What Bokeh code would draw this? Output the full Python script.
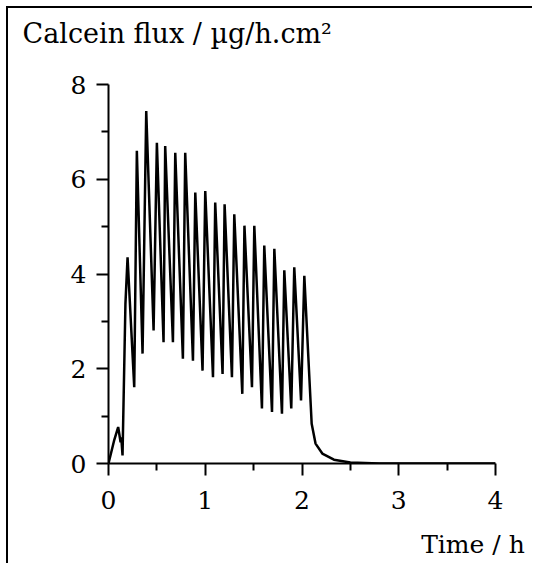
from bokeh.plotting import figure
from bokeh.models import Range1d, FixedTicker, Title, LinearAxis
from bokeh.embed import file_html
from bokeh.resources import INLINE

# Data (time in h, calcein flux in µg/h.cm²)
time_h = [0.0, 0.06, 0.10, 0.125, 0.132, 0.145, 0.175, 0.197, 0.266, 0.293, 0.352,
          0.39, 0.466, 0.50, 0.569, 0.586, 0.666, 0.69, 0.769, 0.793, 0.873,
          0.897, 0.972, 1.0, 1.08, 1.103, 1.179, 1.2, 1.276, 1.30, 1.383,
          1.405, 1.483, 1.507, 1.586, 1.61, 1.69, 1.714, 1.793, 1.817, 1.889,
          1.92, 1.99, 2.024, 2.05, 2.10, 2.14, 2.21, 2.33, 2.5, 2.8, 4.0]
flux = [0.0, 0.5, 0.77, 0.45, 0.55, 0.17, 3.37, 4.35, 1.61, 6.6, 2.32,
        7.44, 2.81, 6.77, 2.56, 6.70, 2.56, 6.56, 2.21, 6.56, 2.17,
        5.72, 1.96, 5.75, 1.82, 5.51, 1.89, 5.47, 1.82, 5.26, 1.47,
        5.02, 1.61, 5.02, 1.16, 4.60, 1.09, 4.53, 1.05, 4.08, 1.16,
        4.14, 1.33, 3.96, 2.88, 0.84, 0.42, 0.21, 0.08, 0.02, 0.0, 0.0]

x_ticks = [0, 1, 2, 3, 4]
x_minor = [0.5, 1.5, 2.5, 3.5]
y_ticks = [0, 2, 4, 6, 8]
y_minor = [1, 3, 5, 7]
y_title = "Calcein flux / \u00b5g/h.cm\u00b2"
x_title = "Time / h"
x_title_pos = 3.767   # x position (h) where the x title is centred

OFF = 8  # page offset of the figure (margin + border)
W, H = 534 - OFF, 565 - OFF
FRAME_TOP = 53            # page y of the frame top
PX_PER_UNIT = (463 - 84) / 8.0
y_top = 8 + (84 - FRAME_TOP) / PX_PER_UNIT

p = figure(width=W, height=H, output_backend="svg", toolbar_location=None,
           x_range=Range1d(0, 4), y_range=Range1d(0, y_top),
           min_border_left=108 - OFF, min_border_right=39,
           min_border_top=FRAME_TOP - OFF, min_border_bottom=102,
           margin=(6, 0, 0, 6),
           styles={"border-left": "2px solid black", "border-top": "2px solid black"})
p.outline_line_color = None
p.grid.visible = False
p.background_fill_color = "white"
p.border_fill_color = "white"

p.line(time_h, flux, line_color="black", line_width=2.5)

FONT = "DejaVu Serif"
for ax, ticks, minor in ((p.xaxis[0], x_ticks, x_minor), (p.yaxis[0], y_ticks, y_minor)):
    ax.ticker = FixedTicker(ticks=ticks, minor_ticks=minor)
    ax.axis_line_width = 2
    ax.major_tick_line_width = 2
    ax.minor_tick_line_width = 2
    ax.major_tick_out = 12
    ax.major_tick_in = 0
    ax.minor_tick_out = 7
    ax.minor_tick_in = 0
    ax.major_label_text_font = FONT
    ax.major_label_text_font_size = "25px"
    ax.major_label_text_color = "black"
p.yaxis.bounds = (0, 8)
p.xaxis.major_label_standoff = 15
p.yaxis.major_label_standoff = 10

# x-axis title placed at the lower right, as a second (line-less) axis label
xlab = LinearAxis(ticker=FixedTicker(ticks=[x_title_pos], minor_ticks=[]),
                  major_label_overrides={x_title_pos: x_title},
                  axis_line_color=None, major_tick_line_color=None,
                  minor_tick_line_color=None, major_tick_out=0, major_tick_in=0,
                  minor_tick_out=0, minor_tick_in=0,
                  major_label_standoff=18, major_label_text_font=FONT,
                  major_label_text_font_size="25px", major_label_text_color="black")
p.add_layout(xlab, "below")

p.add_layout(Title(text=y_title, align="left", offset=-86,
                   text_font=FONT, text_font_size="27px", text_font_style="normal",
                   text_color="black", standoff=10), "above")

open("out.html", "w").write(file_html(p, INLINE))
